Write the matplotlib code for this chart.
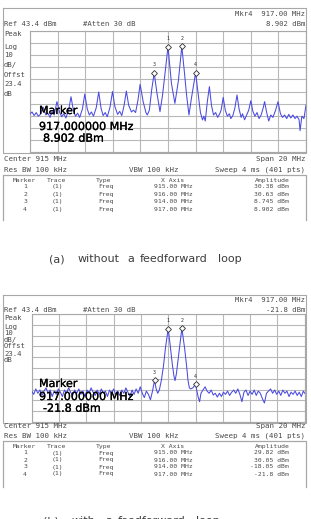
import numpy as np
import matplotlib
matplotlib.use('Agg')
import matplotlib.pyplot as plt
import matplotlib.patheffects as pe

W, H = 311, 519

# ---------------- data ----------------
center_mhz = 915.0
span_mhz = 20.0
ref_dbm = 43.4
db_per_div = 10.0

top_freq = [905.00, 905.15, 905.30, 905.45, 905.60, 905.75, 905.95, 906.15, 906.30, 906.45,
            906.60, 906.75, 906.95, 907.15, 907.30, 907.45, 907.60, 907.80, 907.97, 908.15,
            908.30, 908.45, 908.60, 908.80, 908.97, 909.15, 909.30, 909.45, 909.60, 909.80,
            909.98, 910.15, 910.30, 910.45, 910.60, 910.80, 910.98, 911.15, 911.35, 911.50,
            911.65, 911.82, 911.98, 912.15, 912.35, 912.50, 912.65, 912.82, 912.98, 913.20,
            913.40, 913.50, 913.65, 913.82, 914.00, 914.20, 914.42, 914.60, 914.80, 915.00,
            915.25, 915.50, 915.75, 916.00, 916.20, 916.35, 916.52, 916.70, 917.00, 917.20,
            917.35, 917.50, 917.60, 917.70, 917.85, 918.00, 918.15, 918.30, 918.45, 918.60,
            918.75, 918.85, 919.00, 919.15, 919.30, 919.45, 919.55, 919.70, 919.85, 920.00,
            920.15, 920.30, 920.40, 920.55, 920.70, 920.85, 921.00, 921.15, 921.30, 921.45,
            921.60, 921.75, 921.90, 922.00, 922.15, 922.30, 922.45, 922.60, 922.80, 922.97,
            923.15, 923.30, 923.45, 923.60, 923.75, 923.90, 924.05, 924.20, 924.35, 924.50,
            924.57, 924.70, 924.85, 925.00]
top_amp = [-25.0, -23.5, -26.5, -24.0, -27.0, -25.5, -19.5, -26.0, -24.5, -28.0,
           -23.0, -26.0, -15.0, -24.0, -27.5, -25.0, -28.5, -22.0, -10.9, -22.5,
           -27.0, -24.5, -28.0, -21.0, -8.7, -21.0, -26.0, -23.5, -27.0, -20.0,
           -7.0, -20.5, -26.5, -24.0, -27.5, -19.5, -6.6, -19.0, -25.5, -23.0,
           -26.5, -18.0, -6.2, -18.0, -23.5, -22.0, -24.0, -14.0, -0.65, -15.0,
           -24.0, -26.0, -22.0, -5.0, 8.745, -8.0, -23.3, -10.0, 10.0, 30.38,
           0.0, -16.4, 2.0, 30.63, 8.0, -10.0, -26.0, -12.0, 8.902, -10.0,
           -24.0, -30.1, -27.0, -31.0, -15.0, -2.6, -18.0, -26.0, -24.0, -28.0,
           -25.0, -22.0, -11.4, -22.0, -27.0, -25.0, -29.0, -26.5, -20.0, -9.5,
           -21.0, -28.0, -25.0, -30.0, -26.0, -22.0, -14.2, -23.0, -27.0, -24.0,
           -29.0, -26.0, -20.0, -15.0, -24.0, -31.0, -26.0, -28.0, -22.0, -15.0,
           -25.0, -28.0, -26.0, -29.0, -25.5, -28.5, -26.0, -29.0, -27.0, -30.0,
           -39.0, -27.0, -29.0, -17.8]

bot_freq = [905.00, 905.15, 905.30, 905.45, 905.60, 905.75, 905.90, 906.05, 906.20, 906.35,
            906.50, 906.65, 906.80, 906.95, 907.10, 907.25, 907.40, 907.55, 907.70, 907.85,
            908.00, 908.15, 908.30, 908.45, 908.60, 908.75, 908.90, 909.05, 909.20, 909.35,
            909.50, 909.65, 909.80, 909.95, 910.10, 910.25, 910.40, 910.55, 910.70, 910.85,
            911.00, 911.15, 911.30, 911.45, 911.60, 911.75, 911.90, 912.05, 912.20, 912.35,
            912.50, 912.65, 912.80, 912.95, 913.10, 913.25, 913.40, 913.55, 913.70, 913.85,
            914.00, 914.12, 914.23, 914.35, 914.50, 914.65, 914.80, 915.00, 915.15, 915.30,
            915.42, 915.50, 915.60, 915.75, 916.00, 916.20, 916.35, 916.45, 916.55, 916.65,
            916.80, 917.00, 917.10, 917.20, 917.30, 917.40, 917.55, 917.70, 917.85, 918.00,
            918.15, 918.30, 918.45, 918.60, 918.75, 918.90, 919.05, 919.20, 919.35, 919.50,
            919.65, 919.80, 919.95, 920.10, 920.25, 920.40, 920.55, 920.70, 920.85, 921.00,
            921.15, 921.30, 921.45, 921.60, 921.75, 921.90, 922.05, 922.20, 922.35, 922.50,
            922.65, 922.80, 922.95, 923.10, 923.25, 923.40, 923.55, 923.70, 923.85, 924.00,
            924.15, 924.30, 924.45, 924.60, 924.75, 924.90, 925.00]
bot_amp = [-28.0, -31.0, -26.0, -30.0, -27.0, -32.0, -28.0, -25.0, -30.0, -27.0,
           -33.0, -28.0, -31.0, -26.0, -29.0, -33.0, -27.0, -30.0, -25.0, -29.0,
           -32.0, -27.0, -30.0, -26.0, -31.0, -28.0, -33.0, -27.0, -30.0, -25.0,
           -29.0, -32.0, -27.0, -31.0, -26.0, -30.0, -28.0, -33.0, -27.0, -30.0,
           -26.0, -31.0, -28.0, -32.0, -27.0, -30.0, -25.0, -29.0, -33.0, -27.0,
           -31.0, -26.0, -30.0, -24.0, -30.0, -34.0, -28.0, -31.0, -36.0, -28.0,
           -18.05, -26.0, -30.0, -27.0, -18.0, -5.0, 12.0, 29.82, 14.0, -3.0,
           -14.0, -18.3, -12.0, 4.0, 30.05, 12.0, -5.0, -18.0, -25.0, -26.0,
           -25.0, -21.8, -28.0, -33.7, -37.8, -30.0, -27.0, -24.0, -28.0, -30.0,
           -27.0, -31.6, -30.0, -33.5, -30.0, -33.0, -29.0, -31.0, -28.0, -32.0,
           -29.0, -27.0, -30.0, -26.0, -31.0, -37.8, -29.0, -27.0, -32.0, -28.0,
           -31.0, -27.0, -32.0, -28.0, -30.0, -35.0, -39.0, -30.0, -28.0, -26.0,
           -30.0, -27.0, -31.0, -28.0, -32.0, -27.0, -30.0, -28.0, -33.0, -29.0,
           -31.0, -28.0, -32.0, -29.0, -33.0, -28.0, -30.0]

marker_ids = [1, 2, 3, 4]
marker_freq = [915.0, 916.0, 914.0, 917.0]
marker_xaxis_txt = ['915.00 MHz', '916.00 MHz', '914.00 MHz', '917.00 MHz']
top_marker_amp = [30.38, 30.63, 8.745, 8.902]
bot_marker_amp = [29.82, 30.05, -18.05, -21.8]
top_marker_txt = ['30.38 dBm', '30.63 dBm', '8.745 dBm', '8.902 dBm']
bot_marker_txt = ['29.82 dBm', '30.05 dBm', '-18.05 dBm', '-21.8 dBm']
top_active = ['917.000000 MHz', '8.902 dBm']
bot_active = ['917.000000 MHz', '-21.8 dBm']
top_caption = ['(a)', 'without', 'a', 'feedforward', 'loop']
bot_caption = ['(b)', 'with', 'a', 'feedforward', 'loop']
left_labels = ['Peak', 'Log', '10', 'dB/', 'Offst', '23.4', 'dB']

# ---------------- figure ----------------
fig = plt.figure(figsize=(W / 100, H / 100), dpi=100)
fig.patch.set_facecolor('white')

def frac(x0, y0, x1, y1):
    return [x0 / W, 1 - y1 / H, (x1 - x0) / W, (y1 - y0) / H]

TRACE = '#4a4ae2'
GRID = '#b8b8b8'
TXT = '#4a4a4a'
MONO = 'DejaVu Sans Mono'


def data_axes(box, freq, amp, mamp):
    ax = fig.add_axes(frac(*box))
    ax.set_xlim(center_mhz - span_mhz / 2, center_mhz + span_mhz / 2)
    ax.set_ylim(ref_dbm - 10 * db_per_div, ref_dbm)
    ax.set_xticks(np.linspace(center_mhz - span_mhz / 2, center_mhz + span_mhz / 2, 11))
    ax.set_yticks(ref_dbm - db_per_div * np.arange(11))
    ax.grid(True, color=GRID, lw=0.8)
    ax.tick_params(length=0, labelbottom=False, labelleft=False)
    for s in ax.spines.values():
        s.set_color('#a8a8a8')
        s.set_linewidth(0.8)
    ax.plot(freq, amp, color=TRACE, lw=0.75, zorder=3)
    ax.plot(marker_freq, mamp, 'D', ms=3.0, mfc='white', mec='#303030', mew=0.6, zorder=4)
    for i, f, a in zip(marker_ids, marker_freq, mamp):
        ax.annotate(str(i), (f, a), xytext=(0, 4.2), textcoords='offset points',
                    ha='center', va='bottom', fontsize=3.6, color='#303030',
                    family=MONO, zorder=5)
    return ax


data_axes((30, 31, 306, 152), top_freq, top_amp, top_marker_amp)
data_axes((31.7, 314, 304.7, 422), bot_freq, bot_amp, bot_marker_amp)

ov = fig.add_axes([0, 0, 1, 1])
ov.set_xlim(0, W)
ov.set_ylim(H, 0)
ov.axis('off')


def t(x, y, s, size=5.2, ha='left', color=TXT, family=MONO, va='center', **kw):
    return ov.text(x, y, s, fontsize=size, ha=ha, va=va, color=color, family=family, **kw)


BIG_FX = [pe.withStroke(linewidth=0.2, foreground='black')]


def panel(y0, grid_bot, label_ys, mkr_amp_txt, active, big_ys, rows_y,
          head_y, table_top, table_bot, below_y):
    ov.plot([3, 306, 306, 3, 3], [y0, y0, grid_bot + 1, grid_bot + 1, y0],
            color='#a8a8a8', lw=0.8)
    t(305, y0 + 5.5, 'Mkr4  917.00 MHz', ha='right')
    t(4, y0 + 15.5, 'Ref 43.4 dBm')
    t(83, y0 + 15.5, '#Atten 30 dB')
    t(305, y0 + 15.5, mkr_amp_txt[3], ha='right')
    for s, yy in zip(left_labels, label_ys):
        t(4, yy, s)
    for s, xx, yy in zip(['Marker', active[0], active[1]], [39, 39, 43], big_ys):
        t(xx, yy, s, size=8.0, color='black', family='DejaVu Sans', va='baseline',
          zorder=6, path_effects=BIG_FX)
    t(4, below_y[0], 'Center 915 MHz', size=5.4)
    t(305, below_y[0], 'Span 20 MHz', size=5.4, ha='right')
    t(4, below_y[1], 'Res BW 100 kHz', size=5.4)
    t(129, below_y[1], 'VBW 100 kHz', size=5.4)
    t(305, below_y[1], 'Sweep 4 ms (401 pts)', size=5.4, ha='right')
    ov.plot([3, 3, 306, 306], [table_bot, table_top, table_top, table_bot], color='#a8a8a8', lw=0.9)
    ts = 4.6
    t(24, head_y, 'Marker', size=ts, ha='center')
    t(57, head_y, 'Trace', size=ts, ha='center')
    t(96, head_y, 'Type', size=ts)
    t(173, head_y, 'X Axis', size=ts, ha='center')
    t(272, head_y, 'Amplitude', size=ts, ha='center')
    for yy, mid, xs, am in zip(rows_y, marker_ids, marker_xaxis_txt, mkr_amp_txt):
        t(25, yy, str(mid), size=ts, ha='center')
        t(57, yy, '(1)', size=ts, ha='center')
        t(98.5, yy, 'Freq', size=ts)
        t(173, yy, xs, size=ts, ha='center')
        t(289, yy, am, size=ts, ha='right')


panel(8, 152,
      [34.5, 46.7, 54.7, 65.3, 75.3, 84.3, 93.7],
      top_marker_txt, top_active, [114, 130, 141.7],
      [186.7, 194.2, 201.7, 209.2], 180.7, 175, 220, [159, 169.5])

panel(295, 422,
      [318, 326.5, 333, 340, 346.5, 353.5, 360],
      bot_marker_txt, bot_active, [387, 400, 411.7],
      [453, 460, 467, 474], 446.7, 441, 487, [425.7, 436])

cap_x_a = [49, 78, 127, 140, 218]
cap_x_b = [43, 72, 105, 118, 196]
for s, x in zip(top_caption, cap_x_a):
    t(x, 262, s, size=8.0, color='#3c3c3c', family='DejaVu Sans', va='baseline')
for s, x in zip(bot_caption, cap_x_b):
    t(x, 524, s, size=8.0, color='#3c3c3c', family='DejaVu Sans', va='baseline')

fig.savefig('out.png', dpi=100)
